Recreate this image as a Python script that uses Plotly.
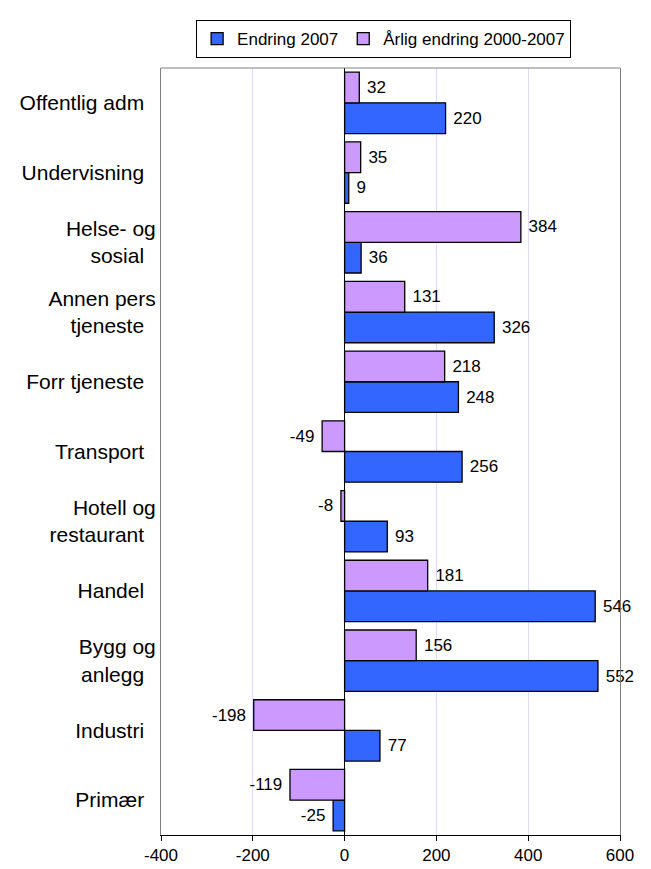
import plotly.graph_objects as go

# categories listed bottom -> top
CATEGORIES = ["Primær", "Industri", "Bygg og<br>anlegg", "Handel", "Hotell og<br>restaurant",
              "Transport", "Forr tjeneste", "Annen pers<br>tjeneste", "Helse- og<br>sosial",
              "Undervisning", "Offentlig adm"]
ENDRING_2007 = [-25, 77, 552, 546, 93, 256, 248, 326, 36, 9, 220]
AARLIG_ENDRING = [-119, -198, 156, 181, -8, -49, 218, 131, 384, 35, 32]
X_TICKS = [-400, -200, 0, 200, 400, 600]

FONT = "Liberation Sans, Arial, sans-serif"
NBSP = "\u00a0"


def label(v):
    # pad away from the bar end, like the original
    return f"{NBSP}{v}" if v >= 0 else f"{v}{NBSP}"


fig = go.Figure()
for name, vals, color in [("Endring 2007", ENDRING_2007, "#3366FF"),
                          ("Årlig endring 2000-2007", AARLIG_ENDRING, "#CC99FF")]:
    fig.add_trace(go.Bar(
        y=CATEGORIES, x=vals, name=name, orientation="h",
        marker=dict(color=color, line=dict(color="black", width=1.3)),
        text=[label(v) for v in vals], textposition="outside",
        textfont=dict(color="black", size=17, family=FONT),
        cliponaxis=False, constraintext="none",
    ))

fig.update_layout(
    width=651, height=869,
    barmode="group", bargap=0.12, bargroupgap=0,
    plot_bgcolor="white", paper_bgcolor="white",
    font=dict(family=FONT, size=17, color="black"),
    margin=dict(l=152, r=39, t=51, b=36),
    showlegend=True,
    legend=dict(orientation="h", x=0.485, xanchor="center", y=1.013, yanchor="bottom",
                bordercolor="black", borderwidth=1, font=dict(size=17),
                traceorder="normal", itemwidth=30, tracegroupgap=0),
    xaxis=dict(range=[-400, 600], tickvals=X_TICKS, ticktext=[str(t) for t in X_TICKS],
               showgrid=True, gridcolor="#DCDCFA",
               gridwidth=1, zeroline=True, zerolinecolor="black", zerolinewidth=1.3,
               showline=True, linecolor="black", linewidth=1, ticks="outside",
               ticklen=5, tickcolor="black", tickfont=dict(size=17)),
    yaxis=dict(showline=True, linecolor="#808080", linewidth=1, mirror=True,
               showgrid=False, ticks="", ticksuffix="  ", tickfont=dict(size=21)),
    shapes=[dict(type="line", xref="paper", yref="paper", x0=0, x1=1, y0=1, y1=1,
                 line=dict(color="#808080", width=1))],
)

fig.write_html("out.html")
